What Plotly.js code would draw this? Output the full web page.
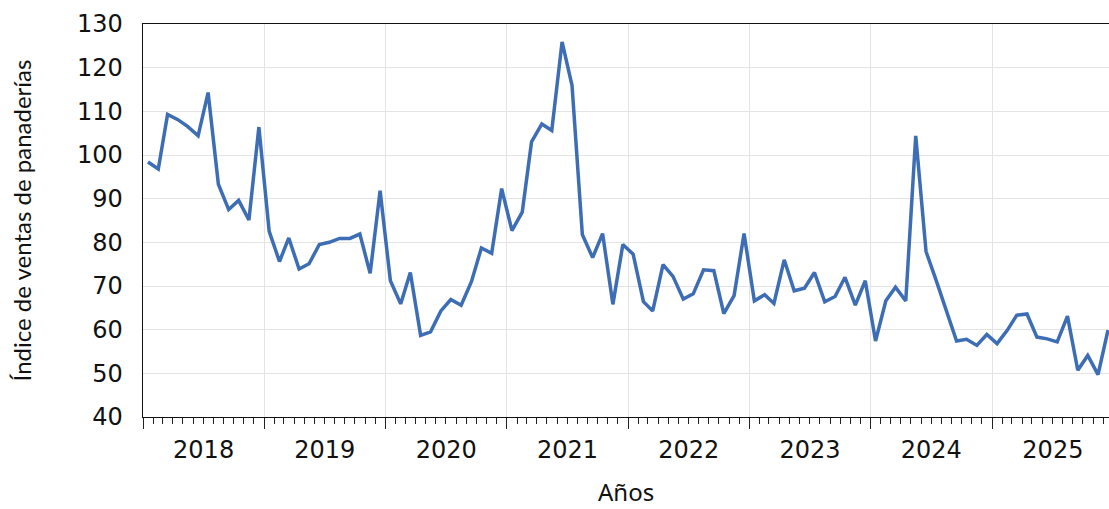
<!DOCTYPE html>
<html>
<head>
<meta charset="utf-8">
<script src="https://cdn.plot.ly/plotly-3.0.1.min.js"></script>
<style>html,body{margin:0;padding:0;background:#fff;}#chart{width:1109px;height:509px;}</style>
</head>
<body>
<div id="chart"></div>
<script>
// Monthly index, Jan 2018 .. Dec 2025
const years = [2018, 2019, 2020, 2021, 2022, 2023, 2024, 2025];
const v2018 = [98.4, 96.8, 109.3, 108.1, 106.5, 104.4, 114.3, 93.3, 87.5, 89.6, 85.1, 106.4];
const v2019 = [82.5, 75.6, 81.0, 73.9, 75.1, 79.5, 80.0, 80.9, 80.9, 81.9, 72.9, 91.8];
const v2020 = [71.2, 65.9, 73.1, 58.7, 59.5, 64.3, 66.9, 65.6, 71.0, 78.7, 77.5, 92.3];
const v2021 = [82.7, 86.9, 103.0, 107.1, 105.6, 125.9, 115.9, 81.8, 76.5, 82.0, 65.8, 79.5];
const v2022 = [77.3, 66.4, 64.3, 74.9, 72.2, 67.0, 68.2, 73.7, 73.5, 63.7, 67.8, 82.0];
const v2023 = [66.6, 68.0, 66.0, 76.0, 68.9, 69.5, 73.1, 66.4, 67.6, 72.0, 65.6, 71.2];
const v2024 = [57.4, 66.6, 69.7, 66.6, 104.4, 77.9, 71.4, 64.3, 57.4, 57.8, 56.4, 58.9];
const v2025 = [56.8, 59.9, 63.3, 63.6, 58.3, 57.9, 57.2, 63.1, 50.7, 54.1, 49.7, 59.9];
const yTickVals = [40, 50, 60, 70, 80, 90, 100, 110, 120, 130];
const xTitle = "Años";
const yTitle = "Índice de ventas de panaderías";

const series = [v2018, v2019, v2020, v2021, v2022, v2023, v2024, v2025];
const x = [], y = [];
years.forEach((yr, i) => {
  series[i].forEach((v, m) => {
    x.push(yr + "-" + String(m + 1).padStart(2, "0") + "-16");
    y.push(v);
  });
});

const tickFont = {family: "DejaVu Sans", size: 24, color: "#111"};

Plotly.newPlot("chart", [{
  x: x, y: y, type: "scatter", mode: "lines",
  line: {color: "#3d6db5", width: 3.5},
  hoverinfo: "skip"
}], {
  width: 1109, height: 509,
  margin: {l: 143, r: 0, t: 24, b: 92},
  paper_bgcolor: "#fff", plot_bgcolor: "#fff",
  showlegend: false,
  xaxis: {
    type: "date",
    range: ["2018-01-01", "2025-12-19"],
    tick0: "2018-01-01", dtick: "M12", tickformat: "%Y",
    ticklabelmode: "period",
    ticks: "outside", ticklen: 11, tickwidth: 1, tickcolor: "#222",
    minor: {dtick: "M1", tick0: "2018-01-01", ticks: "outside", ticklen: 6, tickwidth: 1, tickcolor: "#222", showgrid: false},
    showgrid: true, gridcolor: "#e4e4e4", gridwidth: 1,
    showline: true, linecolor: "#111", linewidth: 1.3, mirror: true,
    tickfont: tickFont,
    zeroline: false
  },
  yaxis: {
    range: [40, 130],
    tickvals: yTickVals,
    ticks: "", ticklabelstandoff: 14,
    showgrid: true, gridcolor: "#e4e4e4", gridwidth: 1,
    showline: true, linecolor: "#111", linewidth: 1.3,
    tickfont: tickFont,
    zeroline: false,
    title: {text: yTitle, font: {family: "Lato", size: 24, color: "#111"}, standoff: 38}
  },
  annotations: [{
    text: xTitle, xref: "paper", yref: "paper", x: 0.5, y: -0.19,
    xanchor: "center", yanchor: "middle", showarrow: false,
    font: {family: "Noto Sans", size: 24, color: "#111"}
  }]
}, {displayModeBar: false, staticPlot: true});
</script>
</body>
</html>
